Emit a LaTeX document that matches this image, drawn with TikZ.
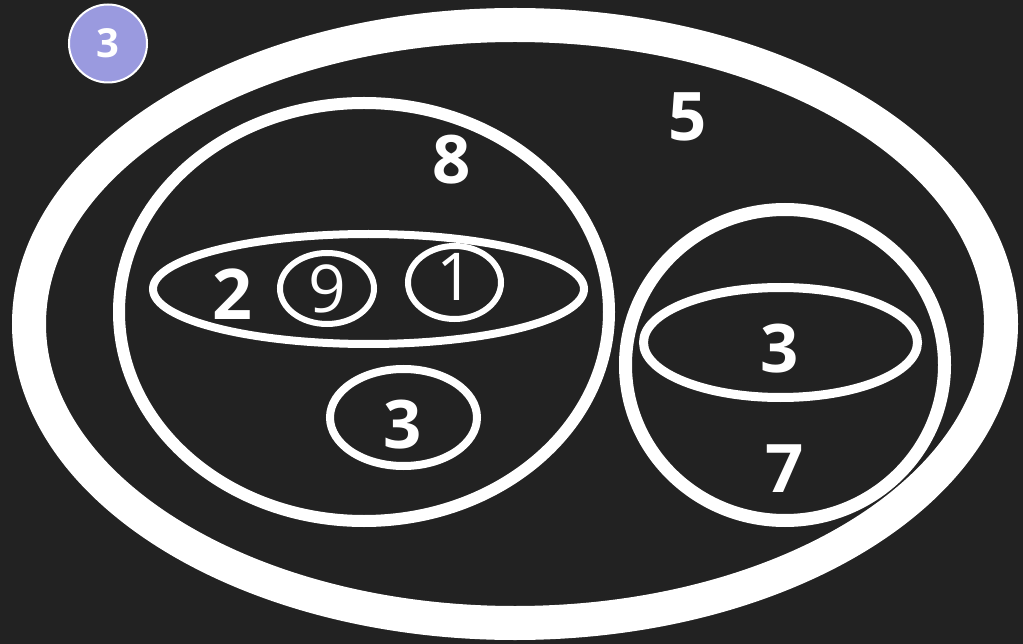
\documentclass[tikz,border=0pt]{standalone}
\usepackage{fontspec}
\setmainfont{Open Sans}
\usetikzlibrary{shapes.geometric}
\definecolor{bg}{HTML}{222222}
\definecolor{badge}{HTML}{9A9ADF}
\begin{document}
\begin{tikzpicture}[x=1pt,y=-1pt,
  ring/.style={draw=white,ellipse,inner sep=0pt,fill=none},
  num/.style={text=white,font=\bfseries\fontsize{67}{67}\selectfont,inner sep=0pt,anchor=center},
  thin/.style={text=white,font=\fontsize{66}{66}\selectfont,inner sep=0pt,anchor=center}]
\fill[bg] (0,0) rectangle (1023,644);
\useasboundingbox (0,0) rectangle (1023,644);
% outer ellipse
\node[ring,line width=34pt,minimum width=972pt,minimum height=598pt] (outer) at (515,324) {};
% left big ellipse
\node[ring,line width=12pt,minimum width=490pt,minimum height=418pt] (left) at (364,312) {};
% horizontal ellipse
\node[ring,line width=8pt,minimum width=431pt,minimum height=110pt] (hor) at (368.5,289) {};
\node[ring,line width=6pt,minimum width=94pt,minimum height=71pt] (c9) at (327,288.5) {};
\node[ring,line width=6pt,minimum width=93pt,minimum height=73pt] (c1) at (454.5,282.5) {};
% lower circle 3
\node[ring,line width=8pt,minimum width=147pt,minimum height=97pt] (c3) at (403.5,417.5) {};
% right circle
\node[ring,line width=13pt,minimum width=319pt,minimum height=311pt] (right) at (785,365) {};
\node[ring,line width=9pt,minimum width=274pt,minimum height=110pt] (rin) at (780.5,342.5) {};
% labels
\node[num] (t5) at (688,117) {5};
\node[num] (t8) at (452,160) {8};
\node[num,font=\bfseries\fontsize{70}{70}\selectfont] (t2) at (232,294) {2};
\node[thin] (t9) at (327,289) {9};
\node[thin] (t1) at (455,277) {1};
\node[num] (t3a) at (403,425) {3};
\node[num] (t3b) at (780,349) {3};
\node[num] (t7) at (785,469) {7};
% badge
\node[circle,fill=badge,draw=white,line width=2pt,minimum size=78pt,inner sep=0pt] (badge) at (108,43.5) {};
\node[text=white,font=\bfseries\fontsize{40}{40}\selectfont,inner sep=0pt] (tb) at (108,43.5) {3};
\end{tikzpicture}
\end{document}
